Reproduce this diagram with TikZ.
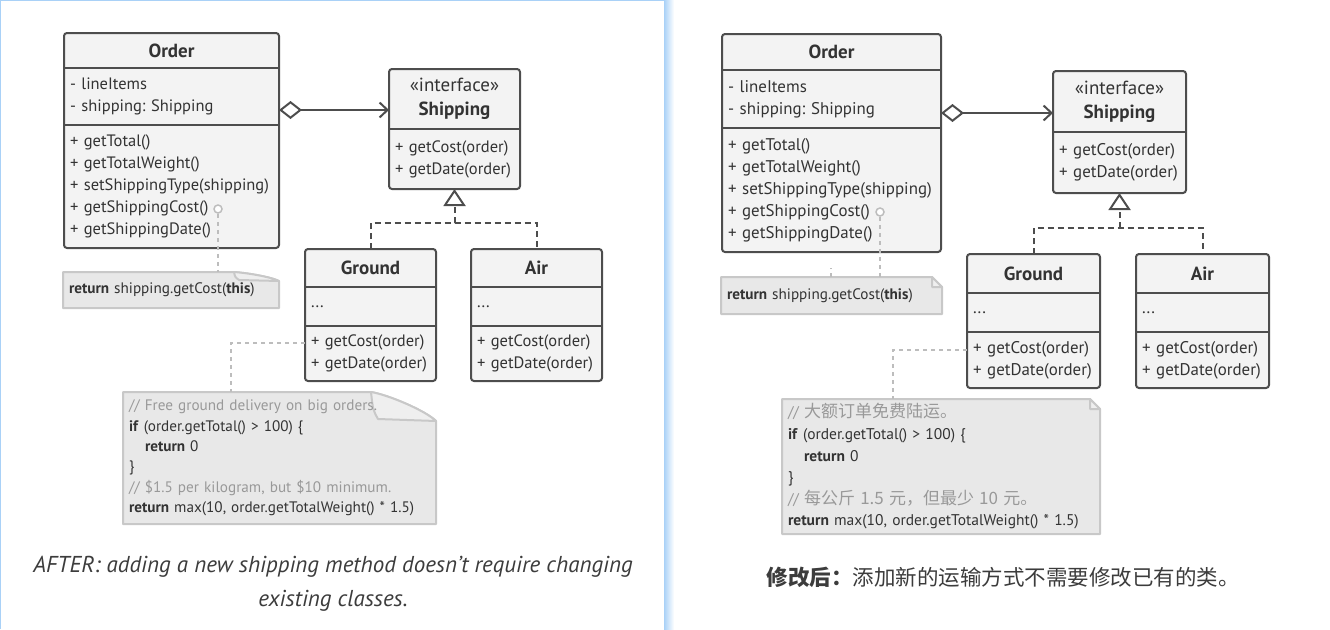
\documentclass[tikz,border=0pt]{standalone}
\usepackage{fontspec}
\setmainfont{PT Sans}
\newfontfamily\umlfont{PT Sans}
\newfontfamily\cjk{Noto Sans CJK SC}
\usepackage{tikz}
\usetikzlibrary{positioning,backgrounds,arrows.meta}
\frenchspacing

\definecolor{umlline}{HTML}{4D4D4D}
\definecolor{umlfill}{HTML}{F3F3F3}
\definecolor{umltext}{HTML}{333333}
\definecolor{notefill}{HTML}{E8E8E8}
\definecolor{notefoldfill}{HTML}{EFEFEF}
\definecolor{noteline}{HTML}{C8C8C8}
\definecolor{notegray}{HTML}{999999}
\definecolor{linkgray}{HTML}{BDBDBD}
\definecolor{panelblue}{HTML}{A9D1F7}
\definecolor{captiontext}{HTML}{3C3C3C}

\begin{document}
\begin{tikzpicture}[
    x=1pt, y=-1pt,
    font=\umlfont\fontsize{16.5}{22}\selectfont,
    text=umltext,
    clshead/.style={
		inner sep=0pt,
		outer sep=0pt,
		align=center,
		font=\umlfont\bfseries\fontsize{19}{24}\selectfont
	},
    clspart/.style={
		inner xsep=6pt,
		inner ysep=0pt,
		outer sep=0pt,
		align=left
	},
    clsframe/.style={
		draw=umlline,
		fill=umlfill,
		line width=2pt,
		rounded corners=3pt
	},
    clsdivider/.style={
		draw=umlline,
		line width=2pt
	},
    notetext/.style={
		inner xsep=6pt,
		inner ysep=0pt,
		outer sep=0pt,
		align=left,
		font=\umlfont\fontsize{15.2}{20.4}\selectfont
	},
    notebody/.style={draw=noteline, fill=notefill, line width=2pt, line join=round},
    notefold/.style={draw=noteline, fill=notefoldfill, line width=2pt, line join=round},
    notelink/.style={draw=linkgray, line width=1.5pt, dash pattern=on 4pt off 4pt},
    notepin/.style={circle, draw=linkgray, line width=1.5pt, fill=white, minimum size=8pt, inner sep=0pt},
    assoc/.style={draw=umlline, line width=2pt},
    realize/.style={draw=umlline, line width=2pt, dash pattern=on 6pt off 4pt},
    caption/.style={align=center, text=captiontext, font=\itshape\fontsize{23}{34}\selectfont}
  ]
  \useasboundingbox (0,0) rectangle (1330,629);

  % panel frame on the left
  \draw[panelblue, line width=1pt] (0.5,629) -- (0.5,0.5) -- (664,0.5);
  \shade[left color=panelblue, right color=white] (664,0) rectangle (674,629);

  % ---------- left panel ----------
  \node[clshead, minimum width=215, minimum height=35, anchor=north west] (lorder) at (64,33) {Order};
  \node[clspart, text width=203, minimum height=57, below=0pt of lorder] (lorderattr) {- lineItems\\- shipping: Shipping};
  \node[clspart, text width=203, minimum height=123, below=0pt of lorderattr] (lorderops)
 {+ getTotal()\\+ getTotalWeight()\\+ setShippingType(shipping)\\+ getShippingCost()\\+ getShippingDate()};

  \node[clshead, minimum width=131, minimum height=60, anchor=north west] (lship) at (389,69)
 {{\mdseries «interface»}\\Shipping};
  \node[clspart, text width=119, minimum height=60, below=0pt of lship] (lshipops) {+ getCost(order)\\+ getDate(order)};

  \node[clshead, minimum width=131, minimum height=38, anchor=north west] (lground) at (305,249) {Ground};
  \node[clspart, text width=119, minimum height=39, below=0pt of lground] (lgroundattr) {...};
  \node[clspart, text width=119, minimum height=55, below=0pt of lgroundattr] (lgroundops) {+ getCost(order)\\+ getDate(order)};

  \node[clshead, minimum width=131, minimum height=38, anchor=north west] (lair) at (471,249) {Air};
  \node[clspart, text width=119, minimum height=39, below=0pt of lair] (lairattr) {...};
  \node[clspart, text width=119, minimum height=55, below=0pt of lairattr] (lairops) {+ getCost(order)\\+ getDate(order)};

  \node[notetext, text width=204, minimum height=36, anchor=north west] (lnote1) at (63,272)
 {\textbf{return} shipping.getCost(\textbf{this})};
  \node[notetext, text width=301, minimum height=132, anchor=north west] (lnote2) at (123,392)
 {\textcolor{notegray}{// Free ground delivery on big orders.}\\
  \textbf{if} (order.getTotal() > 100) \{\\
  \hspace*{16pt}\textbf{return} 0\\
  \}\\
  \textcolor{notegray}{// \$1.5 per kilogram, but \$10 minimum.}\\
  \textbf{return} max(10, order.getTotalWeight() * 1.5)};
  \node[notepin] (lpin) at (218,209) {};

  \node[caption] (lcaption) at (333,584) {AFTER: adding a new shipping method doesn’t require changing\\existing classes.};

  \begin{scope}[on background layer]
    \draw[clsframe] (lorder.north west) rectangle (lorderops.south east);
    \draw[clsframe] (lship.north west) rectangle (lshipops.south east);
    \draw[clsframe] (lground.north west) rectangle (lgroundops.south east);
    \draw[clsframe] (lair.north west) rectangle (lairops.south east);
    \path[notebody] (lnote1.south west) -- (lnote1.north west) -- ([xshift=-45pt]lnote1.north east)
      .. controls +(14,1) and +(-8,-4) .. ([yshift=-9pt]lnote1.north east) -- (lnote1.south east) -- cycle;
    \path[notefold] ([xshift=-45pt]lnote1.north east) .. controls +(1,5) .. ([xshift=-40pt,yshift=-8pt]lnote1.north east)
      -- ([yshift=-9pt]lnote1.north east) .. controls +(-8,-4) and +(14,1) .. ([xshift=-45pt]lnote1.north east) -- cycle;
    \path[notebody] (lnote2.south west) -- (lnote2.north west) -- ([xshift=-65pt]lnote2.north east)
      .. controls +(18,3) and +(-10,-10) .. ([yshift=-29pt]lnote2.north east) -- (lnote2.south east) -- cycle;
    \path[notefold] ([xshift=-65pt]lnote2.north east) .. controls +(2,18) .. ([xshift=-58pt,yshift=-27pt]lnote2.north east)
      -- ([yshift=-29pt]lnote2.north east) .. controls +(-10,-10) and +(18,3) .. ([xshift=-65pt]lnote2.north east) -- cycle;
  \end{scope}

  \draw[clsdivider] (lorderattr.north west) -- (lorderattr.north east);
  \draw[clsdivider] (lorderops.north west) -- (lorderops.north east);
  \draw[clsdivider] (lshipops.north west) -- (lshipops.north east);
  \draw[clsdivider] (lgroundattr.north west) -- (lgroundattr.north east);
  \draw[clsdivider] (lgroundops.north west) -- (lgroundops.north east);
  \draw[clsdivider] (lairattr.north west) -- (lairattr.north east);
  \draw[clsdivider] (lairops.north west) -- (lairops.north east);

  \draw[assoc, {Diamond[open, length=23pt, width=18pt]}-{Straight Barb[length=8pt, width=15pt]}]
    ([yshift=15pt]lorderattr.south east) -- ([yshift=15pt]lorderattr.south east -| lship.west);
  \coordinate (lfork) at ([yshift=-34pt]lshipops.south);
  \draw[realize] (lground.north) |- (lfork) -| (lair.north);
  \draw[realize, -{Triangle[open, length=17pt, width=22pt]}] (lfork) -- (lshipops.south);

  \draw[notelink] (lpin) -- (lpin |- lnote1.north);
  \draw[notelink] ([yshift=-17pt]lgroundops.north west) -| ([xshift=108pt]lnote2.north west);

  % ---------- right panel ----------
  \begin{scope}[font=\umlfont\fontsize{16.9}{22}\selectfont]
  \node[clshead, minimum width=219, minimum height=36, anchor=north west] (rorder) at (722,34) {Order};
  \node[clspart, text width=207, minimum height=58, below=0pt of rorder] (rorderattr) {- lineItems\\- shipping: Shipping};
  \node[clspart, text width=207, minimum height=124, below=0pt of rorderattr] (rorderops)
 {+ getTotal()\\+ getTotalWeight()\\+ setShippingType(shipping)\\+ getShippingCost()\\+ getShippingDate()};

  \node[clshead, minimum width=133, minimum height=61, anchor=north west] (rship) at (1053,71)
 {{\mdseries «interface»}\\Shipping};
  \node[clspart, text width=121, minimum height=61, below=0pt of rship] (rshipops) {+ getCost(order)\\+ getDate(order)};

  \node[clshead, minimum width=133, minimum height=39, anchor=north west] (rground) at (967,254) {Ground};
  \node[clspart, text width=121, minimum height=39, below=0pt of rground] (rgroundattr) {...};
  \node[clspart, text width=121, minimum height=56, below=0pt of rgroundattr] (rgroundops) {+ getCost(order)\\+ getDate(order)};

  \node[clshead, minimum width=133, minimum height=39, anchor=north west] (rair) at (1136,254) {Air};
  \node[clspart, text width=121, minimum height=39, below=0pt of rair] (rairattr) {...};
  \node[clspart, text width=121, minimum height=56, below=0pt of rairattr] (rairops) {+ getCost(order)\\+ getDate(order)};
  \end{scope}

  \node[notetext, text width=209, minimum height=37, anchor=north west] (rnote1) at (721,277)
 {\textbf{return} shipping.getCost(\textbf{this})};
  \node[notetext, text width=306, minimum height=135, anchor=north west, font=\umlfont\fontsize{15.5}{21.6}\selectfont] (rnote2) at (782,399)
 {\textcolor{notegray}{// {\cjk\fontsize{17}{21.6}\selectfont 大额订单免费陆运。}}\\
  \textbf{if} (order.getTotal() > 100) \{\\
  \hspace*{16pt}\textbf{return} 0\\
  \}\\
  \textcolor{notegray}{// {\cjk\fontsize{17}{21.6}\selectfont 每公斤 1.5 元，但最少 10 元。}}\\
  \textbf{return} max(10, order.getTotalWeight() * 1.5)};
  \node[notepin] (rpin) at (880,212) {};

  \node[caption, font=\cjk\fontsize{21.5}{34}\selectfont] (rcaption) at (1003,577)
 {\textbf{修改后：}添加新的运输方式不需要修改已有的类。};

  \begin{scope}[on background layer]
    \draw[clsframe] (rorder.north west) rectangle (rorderops.south east);
    \draw[clsframe] (rship.north west) rectangle (rshipops.south east);
    \draw[clsframe] (rground.north west) rectangle (rgroundops.south east);
    \draw[clsframe] (rair.north west) rectangle (rairops.south east);
    \path[notebody] (rnote1.south west) -- (rnote1.north west) -- ([xshift=-10pt]rnote1.north east)
      -- ([yshift=-10pt]rnote1.north east) -- (rnote1.south east) -- cycle;
    \path[notefold] ([xshift=-10pt]rnote1.north east) -- ([xshift=-10pt,yshift=-10pt]rnote1.north east)
      -- ([yshift=-10pt]rnote1.north east) -- cycle;
    \path[notebody] (rnote2.south west) -- (rnote2.north west) -- ([xshift=-10pt]rnote2.north east)
      -- ([yshift=-10pt]rnote2.north east) -- (rnote2.south east) -- cycle;
    \path[notefold] ([xshift=-10pt]rnote2.north east) -- ([xshift=-10pt,yshift=-10pt]rnote2.north east)
      -- ([yshift=-10pt]rnote2.north east) -- cycle;
  \end{scope}

  \draw[clsdivider] (rorderattr.north west) -- (rorderattr.north east);
  \draw[clsdivider] (rorderops.north west) -- (rorderops.north east);
  \draw[clsdivider] (rshipops.north west) -- (rshipops.north east);
  \draw[clsdivider] (rgroundattr.north west) -- (rgroundattr.north east);
  \draw[clsdivider] (rgroundops.north west) -- (rgroundops.north east);
  \draw[clsdivider] (rairattr.north west) -- (rairattr.north east);
  \draw[clsdivider] (rairops.north west) -- (rairops.north east);

  \draw[assoc, {Diamond[open, length=23pt, width=18pt]}-{Straight Barb[length=8pt, width=15pt]}]
    ([yshift=15pt]rorderattr.south east) -- ([yshift=15pt]rorderattr.south east -| rship.west);
  \coordinate (rfork) at ([yshift=-35pt]rshipops.south);
  \draw[realize] (rground.north) |- (rfork) -| (rair.north);
  \draw[realize, -{Triangle[open, length=17pt, width=22pt]}] (rfork) -- (rshipops.south);

  \draw[notelink] (rpin) -- (rpin |- rnote1.north);
  \draw[notelink] ([yshift=-18pt]rgroundops.north west) -| ([xshift=111pt]rnote2.north west);
  \draw[notelink] ([xshift=110pt]rnote1.north west) -- ++(0,-9);

\end{tikzpicture}
\end{document}
